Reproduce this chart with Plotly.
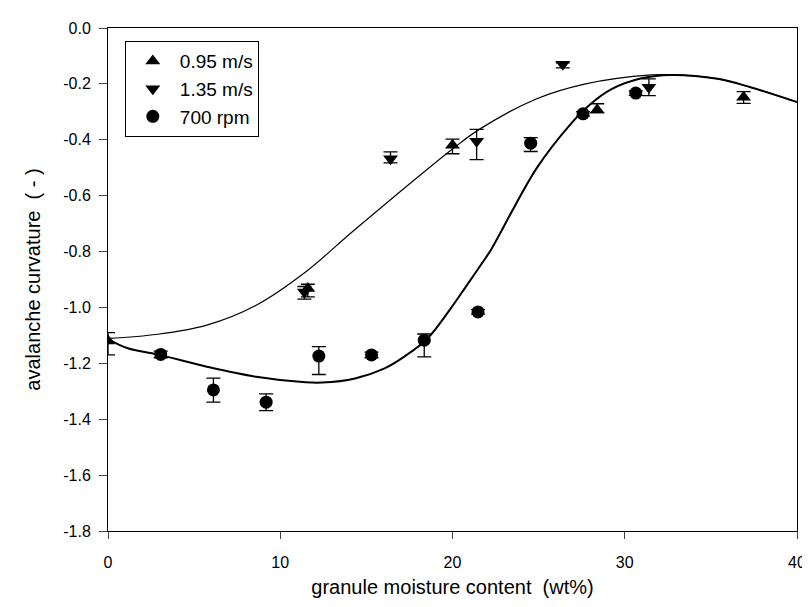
import plotly.graph_objects as go

# 0.95 m/s (triangle up)
x_095 = [0.0, 11.6, 20.0, 28.4, 36.9]
y_095 = [-1.12, -0.932, -0.42, -0.293, -0.248]
e_095_plus = [0.03, 0.015, 0.022, 0.022, 0.02]
e_095_minus = [0.05, 0.03, 0.03, 0.01, 0.022]

# 1.35 m/s (triangle down)
x_135 = [11.4, 16.4, 21.4, 26.4, 31.4]
y_135 = [-0.945, -0.468, -0.405, -0.13, -0.212]
e_135_plus = [0.02, 0.025, 0.042, 0.005, 0.03]
e_135_minus = [0.025, 0.015, 0.066, 0.013, 0.03]

# 700 rpm (circle)
x_700 = [3.06, 6.12, 9.18, 12.24, 15.3, 18.36, 21.48, 24.54, 27.58, 30.64]
y_700 = [-1.168, -1.295, -1.339, -1.174, -1.170, -1.117, -1.016, -0.412, -0.307, -0.233]
e_700_plus = [0.012, 0.042, 0.03, 0.034, 0.01, 0.022, 0.008, 0.02, 0.008, 0.008]
e_700_minus = [0.012, 0.044, 0.03, 0.066, 0.01, 0.06, 0.008, 0.03, 0.008, 0.008]

# fitted curves
x_fit_a = [0.0, 2.87, 5.74, 8.6, 11.47, 14.34, 20.02, 21.6, 24.86, 27.73, 31.55, 32.7, 35.4, 37.3, 40.0]
y_fit_a = [-1.111, -1.096, -1.063, -0.992, -0.873, -0.721, -0.432, -0.361, -0.254, -0.200, -0.168, -0.167, -0.182, -0.212, -0.265]

x_fit_b = [0.0, 1.15, 2.87, 5.74, 8.6, 11.47, 12.43, 14.34, 16.06, 17.2, 18.55, 19.89, 20.84, 21.9, 22.28,
           24.86, 26.78, 27.92, 29.26, 30.98, 32.7, 35.4, 37.3, 40.0]
y_fit_b = [-1.113, -1.146, -1.168, -1.212, -1.248, -1.268, -1.269, -1.254, -1.218, -1.176, -1.111, -1.004,
           -0.920, -0.825, -0.789, -0.504, -0.349, -0.277, -0.218, -0.180, -0.168, -0.182, -0.212, -0.265]

x_ticks = [0, 10, 20, 30, 40]
y_ticks = [0.0, -0.2, -0.4, -0.6, -0.8, -1.0, -1.2, -1.4, -1.6, -1.8]
y_ticklabels = ["0.0", "-0.2", "-0.4", "-0.6", "-0.8", "-1.0", "-1.2", "-1.4", "-1.6", "-1.8"]

FONT = "Liberation Sans, Arial, sans-serif"

fig = go.Figure()

fig.add_trace(go.Scatter(x=x_fit_a, y=y_fit_a, mode="lines", line=dict(color="black", width=1.2, shape="spline"),
                         showlegend=False, hoverinfo="skip"))
fig.add_trace(go.Scatter(x=x_fit_b, y=y_fit_b, mode="lines", line=dict(color="black", width=2, shape="spline"),
                         showlegend=False, hoverinfo="skip"))

def err(plus, minus):
    return dict(type="data", symmetric=False, array=plus, arrayminus=minus,
                color="black", thickness=1.3, width=7)

fig.add_trace(go.Scatter(x=x_095, y=y_095, mode="markers", name="0.95 m/s",
                         marker=dict(symbol="triangle-up", size=13, color="black"),
                         error_y=err(e_095_plus, e_095_minus)))
fig.add_trace(go.Scatter(x=x_135, y=y_135, mode="markers", name="1.35 m/s",
                         marker=dict(symbol="triangle-down", size=13, color="black"),
                         error_y=err(e_135_plus, e_135_minus)))
fig.add_trace(go.Scatter(x=x_700, y=y_700, mode="markers", name="700 rpm",
                         marker=dict(symbol="circle", size=13, color="black"),
                         error_y=err(e_700_plus, e_700_minus)))

fig.update_layout(
    width=810, height=607,
    margin=dict(l=100, r=13, t=19, b=84),
    paper_bgcolor="white", plot_bgcolor="white",
    font=dict(family=FONT, size=16, color="black"),
    legend=dict(x=0.0244, y=0.974, xanchor="left", yanchor="top",
                bordercolor="black", borderwidth=1, bgcolor="white",
                font=dict(size=19), itemwidth=44, tracegroupgap=0),
    xaxis=dict(range=[0, 40], tickvals=x_ticks, ticks="outside", ticklen=7, tickwidth=1,
               ticklabelstandoff=10,
               showline=True, linecolor="black", linewidth=1, mirror=True, showgrid=False,
               zeroline=False,
               title=dict(text="granule moisture content \u00a0(wt%)", font=dict(size=20), standoff=9)),
    yaxis=dict(range=[-1.8, 0.0], tickvals=y_ticks, ticktext=y_ticklabels, ticks="outside", ticklen=8,
               tickwidth=1, ticklabelstandoff=5,
               showline=True, linecolor="black", linewidth=1, mirror=True, showgrid=False,
               zeroline=False,
               title=dict(text="avalanche curvature \u00a0( - )", font=dict(size=20), standoff=17)),
)

fig.write_html("out.html")
